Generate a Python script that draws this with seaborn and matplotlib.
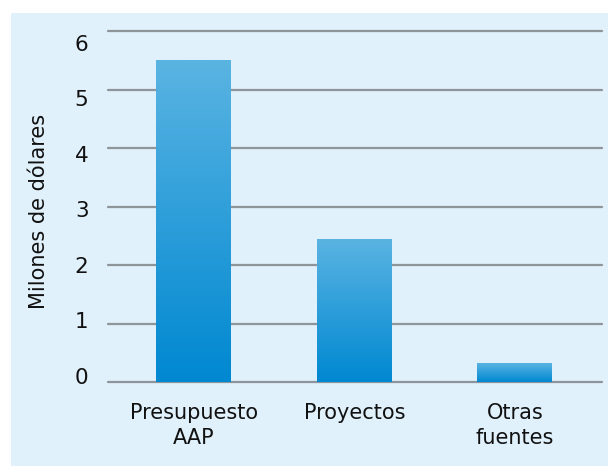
import numpy as np
import pandas as pd
import matplotlib
matplotlib.use("Agg")
import matplotlib.pyplot as plt
import matplotlib.transforms as mtransforms
import seaborn as sns
from matplotlib.colors import LinearSegmentedColormap
from matplotlib.patches import Rectangle

categories = ["Presupuesto\nAAP", "Proyectos", "Otras\nfuentes"]
values = [5.5, 2.45, 0.32]
y_ticks = [0, 1, 2, 3, 4, 5, 6]
y_label = "Milones de dólares"

panel_color = "#e0f1fb"
grid_color = "#8d949a"
top_color = "#5ab4e2"
bottom_color = "#0088d1"
text_color = "#111111"

sns.set_theme(style="white")
plt.rcParams["font.family"] = ["DejaVu Sans"]

df = pd.DataFrame({"fuente": categories, "monto": values})

fig = plt.figure(figsize=(6.08, 4.66), dpi=100)
fig.patch.set_facecolor("white")
fig.patches.append(Rectangle((11 / 608, 0), 1 - 11 / 608, 1 - 13 / 466,
                             transform=fig.transFigure, facecolor=panel_color,
                             edgecolor="none", zorder=-5))

ax = fig.add_axes([108 / 608, 1 - 382 / 466, (602 - 108) / 608, (382 - 31) / 466])
ax.patch.set_alpha(0)

sns.barplot(data=df, x="fuente", y="monto", ax=ax, width=0.467,
            color=bottom_color, saturation=1, linewidth=0, zorder=3)

xlim = (-0.534, 2.543)
ax.set_xlim(*xlim)
ax.set_ylim(0, 6)
ax.set_yticks(y_ticks)
ax.set_yticklabels([str(t) for t in y_ticks], fontsize=15.5, color=text_color)
ax.tick_params(axis="y", length=0, pad=14)
ax.tick_params(axis="x", length=0, pad=15, labelsize=15, labelcolor=text_color)
ax.set_xlabel("")
ax.set_ylabel(y_label, fontsize=15, color=text_color)
ax.yaxis.set_label_coords(-0.119, 0.486)
for t in ax.get_xticklabels():
    t.set_linespacing(1.3)

# value labels sit on a slightly tighter step than the grid
for i, lab in enumerate(ax.get_yticklabels()):
    shift = (-6 + i * 2.92) / 100.0
    lab.set_transform(lab.get_transform() +
                      mtransforms.ScaledTranslation(0, -shift, fig.dpi_scale_trans))

for y in y_ticks:
    ax.axhline(y, color=grid_color, lw=1.6, zorder=2, clip_on=False)
for s in ax.spines.values():
    s.set_visible(False)

# vertical gradient fill for each bar
cmap = LinearSegmentedColormap.from_list("barfill", [bottom_color, top_color])
grad = np.linspace(0, 1, 256).reshape(-1, 1)
for bar in ax.patches:
    x0, y0 = bar.get_x(), bar.get_y()
    w, h = bar.get_width(), bar.get_height()
    im = ax.imshow(grad, cmap=cmap, origin="lower", aspect="auto",
                   extent=[x0, x0 + w, y0, y0 + h], zorder=4)
    im.set_clip_path(bar)
    bar.set_facecolor("none")

ax.set_xlim(*xlim)
ax.set_ylim(0, 6)
fig.savefig("out.png", dpi=100)
